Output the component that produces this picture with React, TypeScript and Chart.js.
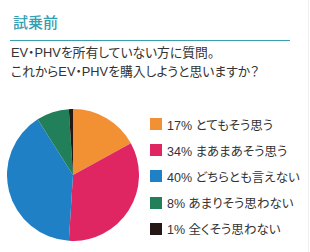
import React, { useEffect, useRef } from "react";
import { Chart, registerables } from "chart.js";

Chart.register(...registerables);

const title = "試乗前";
const questionLines = ["EV・PHVを所有していない方に質問。", "これからEV・PHVを購入しようと思いますか？"];
const categories = ["とてもそう思う", "まあまあそう思う", "どちらとも言えない", "あまりそう思わない", "全くそう思わない"];
const values = [17, 34, 40, 8, 1];
const colors = ["#F29034", "#E02662", "#1F80C6", "#21805A", "#231815"];

const FONT = '"Liberation Sans", "Noto Sans CJK JP", sans-serif';

export default function App() {
  const ref = useRef<HTMLCanvasElement | null>(null);

  useEffect(() => {
    if (!ref.current) return;
    const chart = new Chart(ref.current, {
      type: "pie",
      data: {
        labels: categories,
        datasets: [
          {
            data: values,
            backgroundColor: colors,
            borderWidth: 0,
          },
        ],
      },
      options: {
        animation: false,
        responsive: false,
        maintainAspectRatio: false,
        layout: { padding: 0 },
        plugins: {
          legend: { display: false },
          tooltip: { enabled: false },
        },
      },
    });
    return () => chart.destroy();
  }, []);

  return (
    <div
      style={{
        position: "absolute",
        left: 0,
        top: 0,
        width: 310,
        height: 252,
        background: "#fff",
        fontFamily: FONT,
        fontFeatureSettings: '"palt"',
        overflow: "hidden",
      }}
    >
      <div
        style={{
          position: "absolute",
          left: 13,
          top: 11,
          fontSize: 15,
          lineHeight: "22px",
          color: "#34A0B2",
          fontWeight: 500,
          fontFamily: '"Noto Sans CJK JP", sans-serif',
          fontFeatureSettings: "normal",
        }}
      >
        {title}
      </div>
      <div style={{ position: "absolute", left: 10, top: 40, width: 280, height: 1, background: "#3A9FB0" }} />
      {questionLines.map((line, i) => (
        <div
          key={i}
          style={{
            position: "absolute",
            left: 11,
            top: 44 + i * 19,
            fontSize: 12.8,
            lineHeight: "18px",
            color: "#333",
            whiteSpace: "nowrap",
          }}
        >
          {line}
        </div>
      ))}
      <div style={{ position: "absolute", left: 308, top: 0, width: 1, height: 252, background: "#f0f0f0" }} />
      <canvas
        ref={ref}
        width={132}
        height={132}
        style={{ position: "absolute", left: 7, top: 109, width: 132, height: 132 }}
      />
      {categories.map((c, i) => (
        <div
          key={c}
          style={{
            position: "absolute",
            left: 150,
            top: 115 + i * 26.2,
            height: 18,
            display: "flex",
            alignItems: "center",
            whiteSpace: "nowrap",
            fontSize: 12.5,
            color: "#333",
          }}
        >
          <span style={{ display: "inline-block", width: 12, height: 12, background: colors[i], marginRight: 5 }} />
          <span>{values[i]}%&nbsp;{c}</span>
        </div>
      ))}
    </div>
  );
}
